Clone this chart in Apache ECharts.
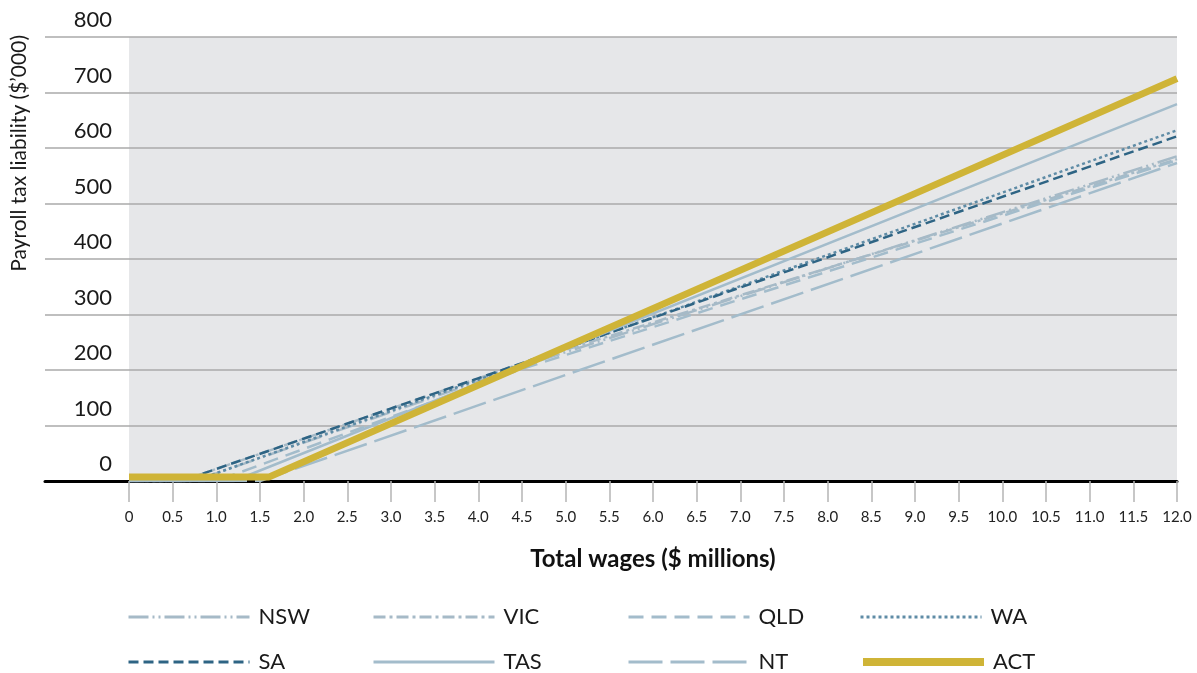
<!DOCTYPE html>
<html>
<head>
<meta charset="utf-8">
<script src="https://cdn.jsdelivr.net/npm/echarts@6/dist/echarts.min.js"></script>
<style>
  html, body { margin: 0; padding: 0; background: #fff; }
  #chart-container { width: 1197px; height: 673px; }
</style>
</head>
<body>
<div id="chart-container"></div>
<script>
// tax liability ($'000) at wage points ($m)
var states = ["NSW", "VIC", "QLD", "WA", "SA", "TAS", "NT", "ACT"];
var nswData = [[0, 0], [0.75, 0], [4.5, 207], [12, 585]];
var vicData = [[0, 0], [0.6, 0], [4.5, 212], [12, 580]];
var qldData = [[0, 0], [1.0, 0], [4.5, 202], [12, 578]];
var waData = [[0, 0], [0.75, 0], [12, 632]];
var saData = [[0, 0], [0.6, 0], [12, 621]];
var tasData = [[0, 0], [1.2, 0], [12, 679]];
var ntData = [[0, 0], [1.5, 0], [12, 573]];
var actData = [[0, 7], [1.6, 7], [12, 725]];

var dom = document.getElementById("chart-container");
var myChart = echarts.init(dom, null, { renderer: "canvas" });

var FONT = "Lato";
var lightBlue = "#a3bccb";

var styles = {
  NSW: { color: "#a6bac7", width: 2.5, type: [20, 4, 2, 4, 2, 4] },
  VIC: { color: "#a6bac7", width: 2.5, type: [12, 4, 3, 4] },
  QLD: { color: lightBlue, width: 2.5, type: [15, 8] },
  WA: { color: "#5f8ca6", width: 2.5, type: [3, 3] },
  SA: { color: "#2e6484", width: 2.5, type: [10, 5] },
  TAS: { color: lightBlue, width: 2.5, type: "solid" },
  NT: { color: lightBlue, width: 2.5, type: [34, 8] },
  ACT: { color: "#cfb437", width: 7, type: "solid" }
};
var seriesData = {
  NSW: nswData, VIC: vicData, QLD: qldData, WA: waData,
  SA: saData, TAS: tasData, NT: ntData, ACT: actData
};

var series = states.map(function (name) {
  var s = styles[name];
  return {
    name: name,
    type: "line",
    xAxisIndex: 1,
    yAxisIndex: 1,
    symbol: "none",
    silent: true,
    data: seriesData[name],
    color: s.color,
    lineStyle: { color: s.color, width: s.width, type: s.type, cap: "butt" }
  };
});

// one legend per item so the columns line up like the original
var legendLefts = [127, 372, 627, 859];
var legendTops = [606, 651];
var legends = states.map(function (name, i) {
  var s = styles[name];
  return {
    data: [name],
    left: legendLefts[i % 4],
    top: legendTops[Math.floor(i / 4)],
    padding: 0,
    itemWidth: 121,
    itemHeight: 22,
    selectedMode: false,
    itemStyle: { opacity: 0, borderWidth: 0 },
    lineStyle: { color: s.color, width: s.width === 7 ? 8 : 3, type: s.type, cap: "butt" },
    textStyle: { fontFamily: FONT, fontSize: 22, color: "#1a1a1a", padding: [0, 0, 0, 4] }
  };
});

var option = {
  animation: false,
  legend: legends,
  grid: [
    { left: 45, width: 84, top: 37, bottom: 192 },
    { left: 129, right: 20, top: 37, bottom: 192, show: true, backgroundColor: "#e6e7e9", borderWidth: 0 }
  ],
  xAxis: [
    {
      gridIndex: 0, type: "value", min: 0, max: 1,
      axisLine: { lineStyle: { color: "#000", width: 3 } },
      axisTick: { show: false }, axisLabel: { show: false }, splitLine: { show: false }
    },
    {
      gridIndex: 1, type: "value", min: 0, max: 12, interval: 0.5,
      name: "Total wages ($ millions)",
      nameLocation: "middle",
      nameGap: 66,
      nameTextStyle: { fontFamily: FONT, fontSize: 24, fontWeight: "bold", color: "#111" },
      axisLine: { lineStyle: { color: "#000", width: 3 } },
      axisTick: { show: true, length: 21, lineStyle: { color: "#b5b5b5", width: 1.5 } },
      axisLabel: {
        margin: 29,
        fontFamily: FONT, fontSize: 15, color: "#222",
        formatter: function (v) { return v === 0 ? "0" : v.toFixed(1); }
      },
      splitLine: { show: false }
    }
  ],
  yAxis: [
    {
      gridIndex: 0, type: "value", min: 0, max: 800, interval: 100,
      axisLine: { show: false }, axisTick: { show: false }, axisLabel: { show: false },
      splitLine: { lineStyle: { color: "#aaaaaa", width: 1.5 } }
    },
    {
      gridIndex: 1, type: "value", min: 0, max: 800, interval: 100,
      axisLine: { show: false }, axisTick: { show: false },
      axisLabel: {
        margin: 17,
        fontFamily: FONT, fontSize: 22, color: "#1a1a1a",
        verticalAlign: "bottom", padding: [0, 0, 6, 0]
      },
      splitLine: { lineStyle: { color: "#aaaaaa", width: 1.5 } }
    }
  ],
  graphic: [
    {
      type: "text",
      left: 9,
      top: 35,
      rotation: Math.PI / 2,
      style: { text: "Payroll tax liability ($\u2019000)", font: "21px " + FONT, fill: "#1a1a1a" }
    }
  ],
  series: series
};

myChart.setOption(option);
window.addEventListener("resize", myChart.resize);
</script>
</body>
</html>
